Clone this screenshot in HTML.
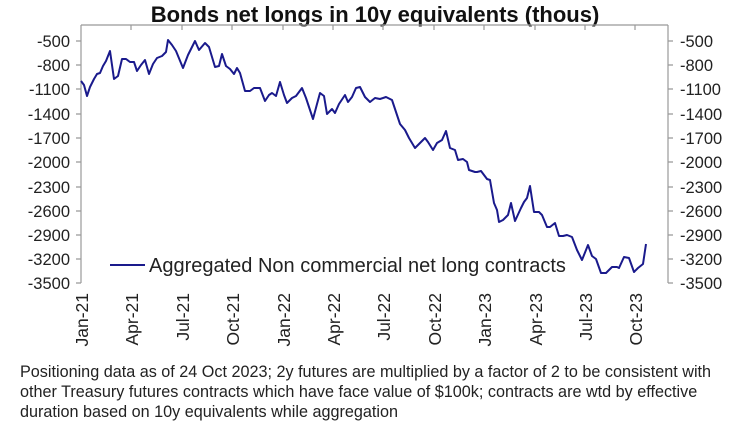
<!DOCTYPE html>
<html><head><meta charset="utf-8"><style>
html,body{margin:0;padding:0;background:#fff;width:750px;height:437px;overflow:hidden}
svg{display:block;font-family:"Liberation Sans",sans-serif}
</style></head><body>
<svg width="750" height="437" viewBox="0 0 750 437">
<text x="375" y="22" text-anchor="middle" font-size="22" font-weight="bold" fill="#111">Bonds net longs in 10y equivalents (thous)</text>
<g stroke="#999" stroke-width="1.2" fill="none">
<path d="M81,25V283M668,25V283M81,25H668"/>
<path d="M76,41H81M76,65H81M76,89H81M76,114H81M76,138H81M76,162H81M76,187H81M76,211H81M76,235H81M76,259H81M76,283H81"/>
<path d="M668,41H673M668,65H673M668,89H673M668,114H673M668,138H673M668,162H673M668,187H673M668,211H673M668,235H673M668,259H673M668,283H673"/>
<path d="M131,25V30M182,25V30M232,25V30M283,25V30M333,25V30M383,25V30M434,25V30M484,25V30M535,25V30M585,25V30M635,25V30"/>
</g>
<g font-size="16.5" fill="#222" text-anchor="end">
<text x="70" y="47">-500</text><text x="70" y="71">-800</text><text x="70" y="95">-1100</text><text x="70" y="120">-1400</text><text x="70" y="144">-1700</text><text x="70" y="168">-2000</text><text x="70" y="193">-2300</text><text x="70" y="217">-2600</text><text x="70" y="241">-2900</text><text x="70" y="265">-3200</text><text x="70" y="289">-3500</text>
</g>
<g font-size="16.5" fill="#222" text-anchor="start">
<text x="680" y="47">-500</text><text x="680" y="71">-800</text><text x="680" y="95">-1100</text><text x="680" y="120">-1400</text><text x="680" y="144">-1700</text><text x="680" y="168">-2000</text><text x="680" y="193">-2300</text><text x="680" y="217">-2600</text><text x="680" y="241">-2900</text><text x="680" y="265">-3200</text><text x="680" y="289">-3500</text>
</g>
<g font-size="17.5" fill="#222" text-anchor="end">
<text transform="translate(88,293) rotate(-90)">Jan-21</text>
<text transform="translate(138,293) rotate(-90)">Apr-21</text>
<text transform="translate(189,293) rotate(-90)">Jul-21</text>
<text transform="translate(239,293) rotate(-90)">Oct-21</text>
<text transform="translate(290,293) rotate(-90)">Jan-22</text>
<text transform="translate(340,293) rotate(-90)">Apr-22</text>
<text transform="translate(390,293) rotate(-90)">Jul-22</text>
<text transform="translate(441,293) rotate(-90)">Oct-22</text>
<text transform="translate(491,293) rotate(-90)">Jan-23</text>
<text transform="translate(542,293) rotate(-90)">Apr-23</text>
<text transform="translate(592,293) rotate(-90)">Jul-23</text>
<text transform="translate(642,293) rotate(-90)">Oct-23</text>
</g>
<polyline fill="none" stroke="#1a1a8c" stroke-width="2" stroke-linejoin="round" points="81,81 84,85 87,96 90,87 94,79 97,74 100,73 103,66 106,61 110,51 114,79 118,76 122,59 126,59 130,62 134,62 137,71 141,65 145,60 149,74 153,64 157,58 162,56 166,52 168,40 172,45 176,51 183,68 188,55 195,41 199,50 205,43 209,47 215,67 219,66 222,54 226,66 230,69 234,74 237,68 240,73 245,91 250,91 254,88 260,88 265,101 269,95 272,93 276,96 280,82 284,95 287,103 292,98 296,96 302,88 306,98 310,110 313,119 317,104 320,93 324,96 327,114 332,109 335,113 339,104 345,95 348,102 352,97 356,88 360,87 365,97 370,102 375,98 380,99 386,97 392,100 400,124 405,130 409,138 415,148 418,145 425,138 428,142 433,150 437,143 442,140 446,131 450,148 455,150 458,160 463,159 467,162 469,170 475,172 477,172 481,171 484,175 487,179 490,180 494,203 497,210 499,222 503,220 508,215 511,203 515,221 521,208 524,202 527,198 530,186 534,212 539,212 542,215 547,227 550,227 555,223 559,236 563,236 567,235 572,237 577,250 582,260 588,245 592,256 596,259 601,273 606,273 612,267 617,267 619,268 624,257 629,258 634,272 638,268 643,264 646,244"/>
<rect x="105" y="252" width="470" height="27" fill="#fff"/>
<line x1="110" y1="265" x2="145" y2="265" stroke="#1a1a8c" stroke-width="2"/>
<text x="149" y="272" font-size="20" fill="#222">Aggregated Non commercial net long contracts</text>
<g font-size="16.2" fill="#222">
<text x="20" y="377">Positioning data as of 24 Oct 2023; 2y futures are multiplied by a factor of 2 to be consistent with</text>
<text x="20" y="397">other Treasury futures contracts which have face value of $100k; contracts are wtd by effective</text>
<text x="20" y="417">duration based on 10y equivalents while aggregation</text>
</g>
</svg>
</body></html>
